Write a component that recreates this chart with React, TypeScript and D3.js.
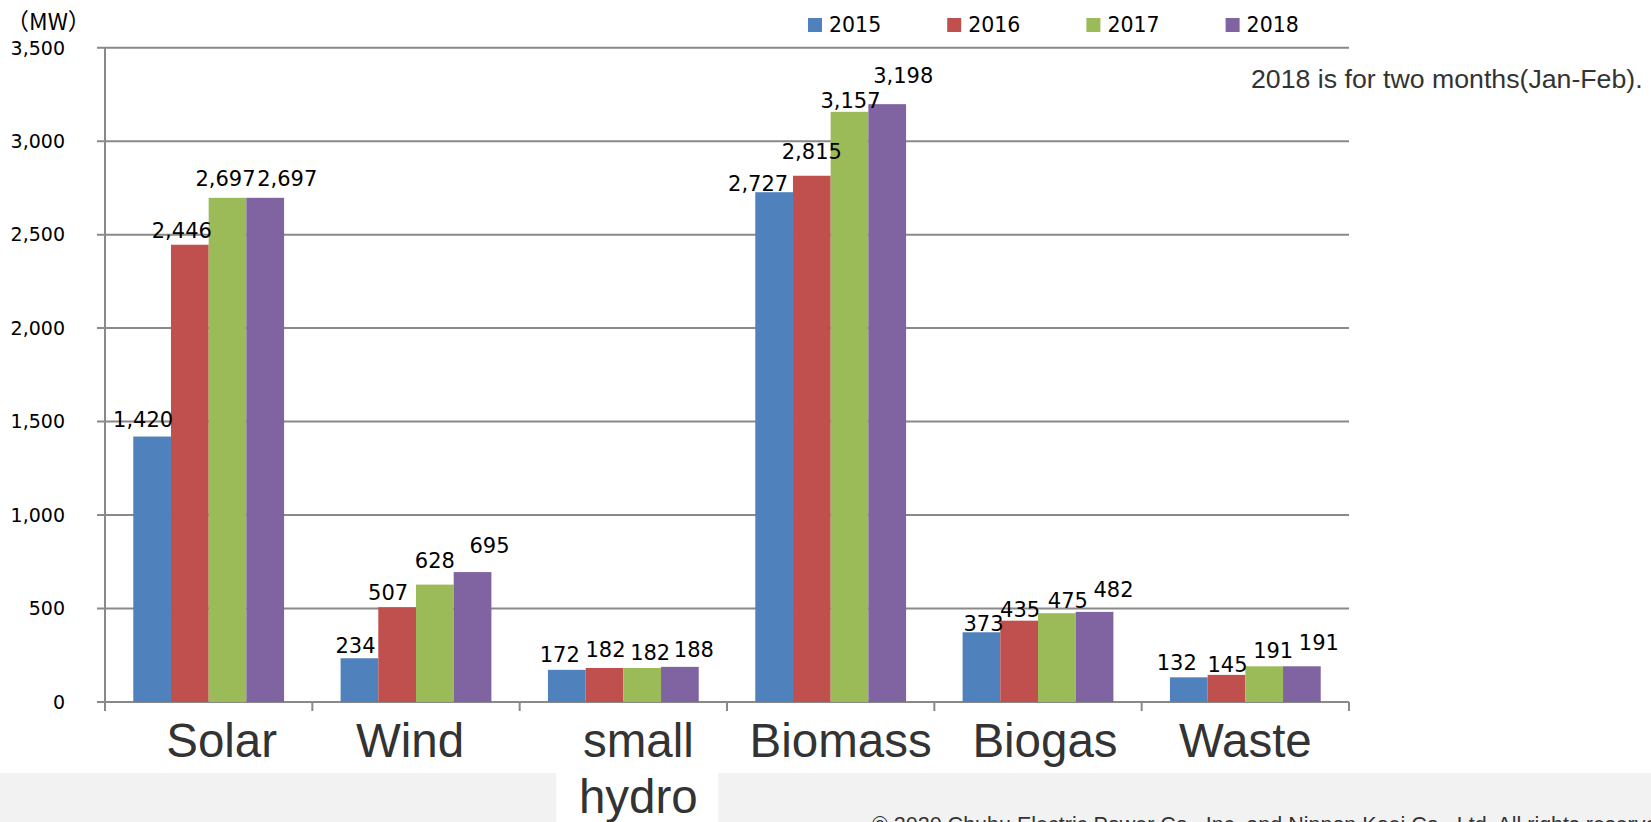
import * as d3 from "d3";

// categories and series
const CATEGORIES = ["Solar", "Wind", "small hydro", "Biomass", "Biogas", "Waste"];
const YEARS = ["2015", "2016", "2017", "2018"];
const V2015 = [1420, 234, 172, 2727, 373, 132];
const V2016 = [2446, 507, 182, 2815, 435, 145];
const V2017 = [2697, 628, 182, 3157, 475, 191];
const V2018 = [2697, 695, 188, 3198, 482, 191];
const SERIES = [V2015, V2016, V2017, V2018];
const Y_TICKS = [0, 500, 1000, 1500, 2000, 2500, 3000, 3500];

const COLORS = ["#4F81BD", "#C0504D", "#9BBB59", "#8064A2"];

// label nudges (Excel moved some labels so they would not collide)
const LABEL_DX = [
  [-9, -4, -7, -16, 2, -12],
  [-8, -9, 1, 0, 1, 1],
  [-2, 0, 8, 1, 11, 9],
  [22, 17, 14, 16, 19, 17],
];
const LABEL_GAP = [
  [10, 5, 8, 1, 1, 7],
  [7, 7, 11, 17, 4, 3],
  [12, 17, 8, 4, 5, 8],
  [12, 19, 10, 21, 15, 16],
];
const CAT_DX = [13, -6, 15, 10, 7, 0];

const W = 1651;
const H = 822;
const NUM_FONT = "'DejaVu Sans', sans-serif";
const TXT_FONT = "'Liberation Sans', Arial, sans-serif";
const GRID = "#898989";

export default function App() {
  const x = d3.scaleBand<string>().domain(CATEGORIES).range([105, 1349]);
  const inner = d3
    .scaleBand<string>()
    .domain(YEARS)
    .range([0, x.bandwidth()])
    .paddingOuter(0.75);
  const y = d3.scaleLinear().domain([0, 3500]).range([702, 47.7]);
  const fmt = d3.format(",");

  const ticksX = [...CATEGORIES.map((c) => x(c) as number), 1349];

  return (
    <svg
      width={W}
      height={H}
      style={{ position: "absolute", left: 0, top: 0, display: "block", background: "#fff" }}
    >
      {/* footer band */}
      <rect x={0} y={773} width={W} height={H - 773} fill="#f2f2f2" />
      <rect
        x={(x("small hydro") as number) + x.bandwidth() / 2 + CAT_DX[2] - 82}
        y={773}
        width={162}
        height={H - 773}
        fill="#fff"
      />
      <text x={872} y={832} fontFamily={TXT_FONT} fontSize={21.5} fill="#333">
        © 2020 Chubu Electric Power Co., Inc. and Nippon Koei Co., Ltd. All rights reserved.
      </text>

      {/* gridlines + y ticks */}
      {Y_TICKS.map((t) => (
        <g key={t}>
          <line x1={97} x2={1349} y1={y(t)} y2={y(t)} stroke={GRID} strokeWidth={2} />
          <text
            x={65}
            y={y(t)}
            dy="0.36em"
            textAnchor="end"
            fontFamily={NUM_FONT}
            fontSize={19}
            fill="#000"
          >
            {fmt(t)}
          </text>
        </g>
      ))}
      <line x1={105} x2={105} y1={y(3500)} y2={y(0)} stroke={GRID} strokeWidth={2} />
      {ticksX.map((tx, i) => (
        <line key={i} x1={tx} x2={tx} y1={y(0)} y2={y(0) + 9} stroke={GRID} strokeWidth={2} />
      ))}

      {/* unit */}
      <text x={6} y={30} fontFamily="'Noto Sans CJK JP', sans-serif" fontSize={23} fill="#000">
        （MW）
      </text>

      {/* bars */}
      {SERIES.map((vals, s) =>
        vals.map((v, i) => {
          const bx = (x(CATEGORIES[i]) as number) + (inner(YEARS[s]) as number);
          return (
            <rect
              key={`${s}-${i}`}
              x={bx}
              y={y(v)}
              width={inner.bandwidth()}
              height={y(0) - y(v)}
              fill={COLORS[s]}
            />
          );
        })
      )}

      {/* data labels */}
      {SERIES.map((vals, s) =>
        vals.map((v, i) => {
          const cx =
            (x(CATEGORIES[i]) as number) + (inner(YEARS[s]) as number) + inner.bandwidth() / 2;
          return (
            <text
              key={`l${s}-${i}`}
              x={cx + LABEL_DX[s][i]}
              y={y(v) - LABEL_GAP[s][i]}
              textAnchor="middle"
              fontFamily={NUM_FONT}
              fontSize={21}
              fill="#000"
            >
              {fmt(v)}
            </text>
          );
        })
      )}

      {/* category labels */}
      {CATEGORIES.map((c, i) => {
        const cx = (x(c) as number) + x.bandwidth() / 2 + CAT_DX[i];
        return (
          <text
            key={c}
            x={cx}
            y={757}
            textAnchor="middle"
            fontFamily={TXT_FONT}
            fontSize={47.5}
            fill="#333"
          >
            {c.split(" ").map((w, k) => (
              <tspan key={k} x={cx} dy={k === 0 ? 0 : 56}>
                {w}
              </tspan>
            ))}
          </text>
        );
      })}

      {/* legend */}
      {YEARS.map((yr, s) => (
        <g key={yr} transform={`translate(${808 + s * 139.2},0)`}>
          <rect x={0} y={18} width={14} height={14} fill={COLORS[s]} />
          <text x={21} y={32} fontFamily={NUM_FONT} fontSize={20.5} fill="#000">
            {yr}
          </text>
        </g>
      ))}

      {/* note */}
      <text x={1251} y={88} fontFamily={TXT_FONT} fontSize={26.7} fill="#333">
        2018 is for two months(Jan-Feb).
      </text>
    </svg>
  );
}
